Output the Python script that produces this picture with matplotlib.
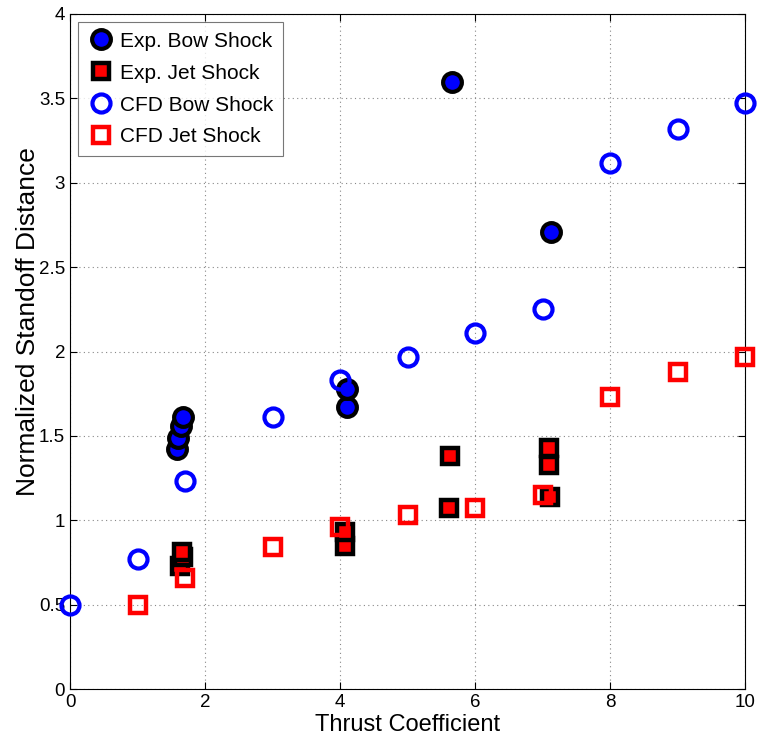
import matplotlib
matplotlib.use("Agg")
import matplotlib.pyplot as plt

plt.rcParams['font.family'] = ['Liberation Sans', 'DejaVu Sans']

exp_bow_x = [1.58, 1.60, 1.65, 1.68, 4.11, 4.11, 5.66, 7.13]
exp_bow_y = [1.42, 1.49, 1.56, 1.61, 1.67, 1.78, 3.60, 2.71]

exp_jet_x = [1.63, 1.68, 1.66, 4.07, 4.07, 5.61, 5.63, 7.11, 7.10, 7.10]
exp_jet_y = [0.73, 0.78, 0.81, 0.85, 0.93, 1.07, 1.38, 1.14, 1.33, 1.43]

cfd_bow_x = [0, 1, 1.7, 3, 4, 5, 6, 7, 8, 9, 10]
cfd_bow_y = [0.50, 0.77, 1.23, 1.61, 1.83, 1.97, 2.11, 2.25, 3.12, 3.32, 3.47]

cfd_jet_x = [1, 1.7, 3, 4, 5, 6, 7, 8, 9, 10]
cfd_jet_y = [0.50, 0.66, 0.84, 0.96, 1.03, 1.07, 1.15, 1.73, 1.88, 1.97]

xticks = [0, 2, 4, 6, 8, 10]
yticks = [0, 0.5, 1, 1.5, 2, 2.5, 3, 3.5, 4]
ytick_labels = ['0', '0.5', '1', '1.5', '2', '2.5', '3', '3.5', '4']

fig = plt.figure(figsize=(7.57, 7.42), dpi=100)
ax = fig.add_axes([70/757, (742-689)/742, (745-70)/757, (689-14)/742])

ax.plot(exp_bow_x, exp_bow_y, 'o', ms=13.5, mfc='#0000ff', mec='black', mew=3,
        label='Exp. Bow Shock', clip_on=False, zorder=3)
ax.plot(exp_jet_x, exp_jet_y, 's', ms=12, mfc='#ff0000', mec='black', mew=3.2,
        label='Exp. Jet Shock', clip_on=False, zorder=3)
ax.plot(cfd_bow_x, cfd_bow_y, 'o', ms=13, mfc='none', mec='#0000ff', mew=3,
        label='CFD Bow Shock', clip_on=False, zorder=4)
ax.plot(cfd_jet_x, cfd_jet_y, 's', ms=12, mfc='none', mec='#ff0000', mew=3.2,
        label='CFD Jet Shock', clip_on=False, zorder=4)

ax.set_xlim(0, 10)
ax.set_ylim(0, 4)
ax.set_xticks(xticks)
ax.set_yticks(yticks)
ax.set_yticklabels(ytick_labels)
ax.tick_params(direction='in', top=True, right=True, labelsize=13.5, length=5, width=0.8)
ax.grid(True, linestyle=(0, (1, 3)), color='#888888', linewidth=0.8)
for s in ax.spines.values():
    s.set_linewidth(0.8)

ax.set_xlabel('Thrust Coefficient', fontsize=17, labelpad=2)
ax.set_ylabel('Normalized Standoff Distance', fontsize=19)
ax.yaxis.set_label_coords(-0.045, 0.545)

leg = ax.legend(loc='upper left', fontsize=15, frameon=True, fancybox=False,
                edgecolor='#555555', borderaxespad=0.4, handletextpad=0.25,
                labelspacing=0.62, borderpad=0.45, handlelength=1.3, markerscale=1.0)
leg.get_frame().set_linewidth(0.8)

fig.savefig('out.png', dpi=100)
